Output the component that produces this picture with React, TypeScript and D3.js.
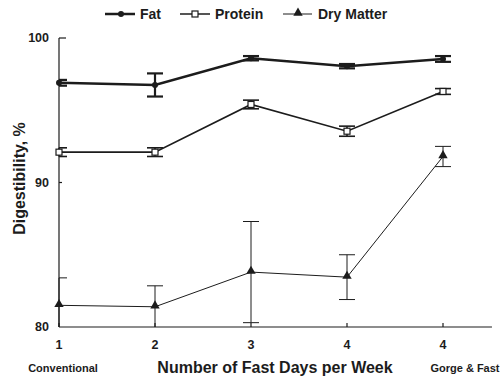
import React from 'react';
import * as d3 from 'd3';

// x categories (number of fast days per week)
const tickLabels = ['1', '2', '3', '4', '4'];
const subLabels = ['Conventional', '', '', '', 'Gorge & Fast'];

// digestibility means and error bars (±)
const fatValues = [96.9, 96.75, 98.6, 98.05, 98.55];
const fatErrors = [0.2, 0.8, 0.15, 0.15, 0.2];
const proteinValues = [92.1, 92.1, 95.4, 93.55, 96.3];
const proteinErrors = [0.3, 0.3, 0.3, 0.35, 0.2];
const dryValues = [81.5, 81.4, 83.8, 83.45, 91.8];
const dryErrors = [1.9, 1.45, 3.5, 1.55, 0.7];

const yTicks = [80, 90, 100];

const W = 502;
const H = 381;
const ink = '#1c1c1c';
const font = 'Liberation Sans, Arial, sans-serif';

const App = () => {
  const x = d3.scaleLinear().domain([0, 4]).range([59, 443]);
  const y = d3.scaleLinear().domain([80, 100]).range([327, 38]);

  const line = d3
    .line<number>()
    .x((_, i) => x(i))
    .y((d) => y(d));

  // error bar helper, clipped to the plot area like the original
  const errorBars = (vals: number[], errs: number[], w: number) =>
    vals.map((v, i) => {
      const cx = x(i);
      const hi = y(Math.min(100, v + errs[i]));
      const lo = y(Math.max(80, v - errs[i]));
      const left = i === 0 ? cx : cx - 8;
      return (
        <g key={i} stroke={ink} strokeWidth={w} fill="none">
          <line x1={cx} x2={cx} y1={hi} y2={lo} />
          <line x1={left} x2={cx + 8} y1={y(v + errs[i])} y2={y(v + errs[i])} />
          {v - errs[i] >= 80 && <line x1={left} x2={cx + 8} y1={y(v - errs[i])} y2={y(v - errs[i])} />}
        </g>
      );
    });

  const triangle = d3.symbol().type(d3.symbolTriangle).size(38)();

  return (
    <svg width={W} height={H} style={{ position: 'absolute', left: 0, top: 0, background: '#fff' }}>
      {/* legend */}
      <g fontFamily={font} fontWeight="bold" fontSize={14} fill={ink}>
        <line x1={105} x2={135} y1={14} y2={14} stroke={ink} strokeWidth={2.5} />
        <circle cx={121} cy={14} r={3} fill={ink} />
        <text x={140} y={19}>Fat</text>
        <line x1={180} x2={210} y1={14} y2={14} stroke={ink} strokeWidth={1.5} />
        <rect x={192} y={11} width={6} height={6} fill="#fff" stroke={ink} strokeWidth={1.2} />
        <text x={215} y={19}>Protein</text>
        <line x1={283} x2={312} y1={14} y2={14} stroke={ink} strokeWidth={1} />
        <path d={triangle!} transform="translate(298,13)" fill={ink} />
        <text x={318} y={19}>Dry Matter</text>
      </g>

      {/* axes */}
      <g stroke={ink} strokeWidth={1.2}>
        <line x1={x(0)} x2={x(0)} y1={y(100)} y2={y(80)} />
        <line x1={x(0)} x2={x(4.51)} y1={y(80)} y2={y(80)} />
        <line x1={x(0)} x2={x(0) + 7} y1={y(100)} y2={y(100)} />
        <line x1={x(0)} x2={x(0) + 3} y1={y(90)} y2={y(90)} />
        {tickLabels.map((_, i) => (
          <line key={i} x1={x(i)} x2={x(i)} y1={y(80)} y2={y(80) - 4} />
        ))}
      </g>
      <g fontFamily={font} fontWeight="bold" fontSize={12.5} fill={ink}>
        {yTicks.map((t) => (
          <text key={t} x={49} y={y(t) + 4} textAnchor="end">{t}</text>
        ))}
        {tickLabels.map((t, i) => (
          <text key={i} x={x(i)} y={y(80) + 22} textAnchor="middle">{t}</text>
        ))}
      </g>
      <g fontFamily={font} fontWeight="bold" fontSize={11} fill={ink}>
        <text x={x(0) + 4} y={372} textAnchor="middle">{subLabels[0]}</text>
        <text x={x(4) + 22} y={372} textAnchor="middle">{subLabels[4]}</text>
      </g>
      <text x={275} y={373} textAnchor="middle" fontFamily={font} fontWeight="bold" fontSize={16} fill={ink}>
        Number of Fast Days per Week
      </text>
      <text
        transform={`translate(25,${y(90) - 4}) rotate(-90)`}
        textAnchor="middle"
        fontFamily={font}
        fontWeight="bold"
        fontSize={16}
        fill={ink}
      >
        Digestibility, %
      </text>

      {/* dry matter */}
      <path d={line(dryValues)!} fill="none" stroke={ink} strokeWidth={1} />
      {errorBars(dryValues, dryErrors, 1)}
      {dryValues.map((v, i) => (
        <path key={i} d={triangle!} transform={`translate(${x(i)},${y(v) - 1})`} fill={ink} />
      ))}

      {/* protein */}
      <path d={line(proteinValues)!} fill="none" stroke={ink} strokeWidth={1.6} />
      {errorBars(proteinValues, proteinErrors, 1.6)}
      {proteinValues.map((v, i) => (
        <rect key={i} x={x(i) - 3} y={y(v) - 3} width={6} height={6} fill="#fff" stroke={ink} strokeWidth={1.2} />
      ))}

      {/* fat */}
      <path d={line(fatValues)!} fill="none" stroke={ink} strokeWidth={2.5} />
      {errorBars(fatValues, fatErrors, 2.2)}
      {fatValues.map((v, i) => (
        <circle key={i} cx={x(i)} cy={y(v)} r={3} fill={ink} />
      ))}
    </svg>
  );
};

export default App;
